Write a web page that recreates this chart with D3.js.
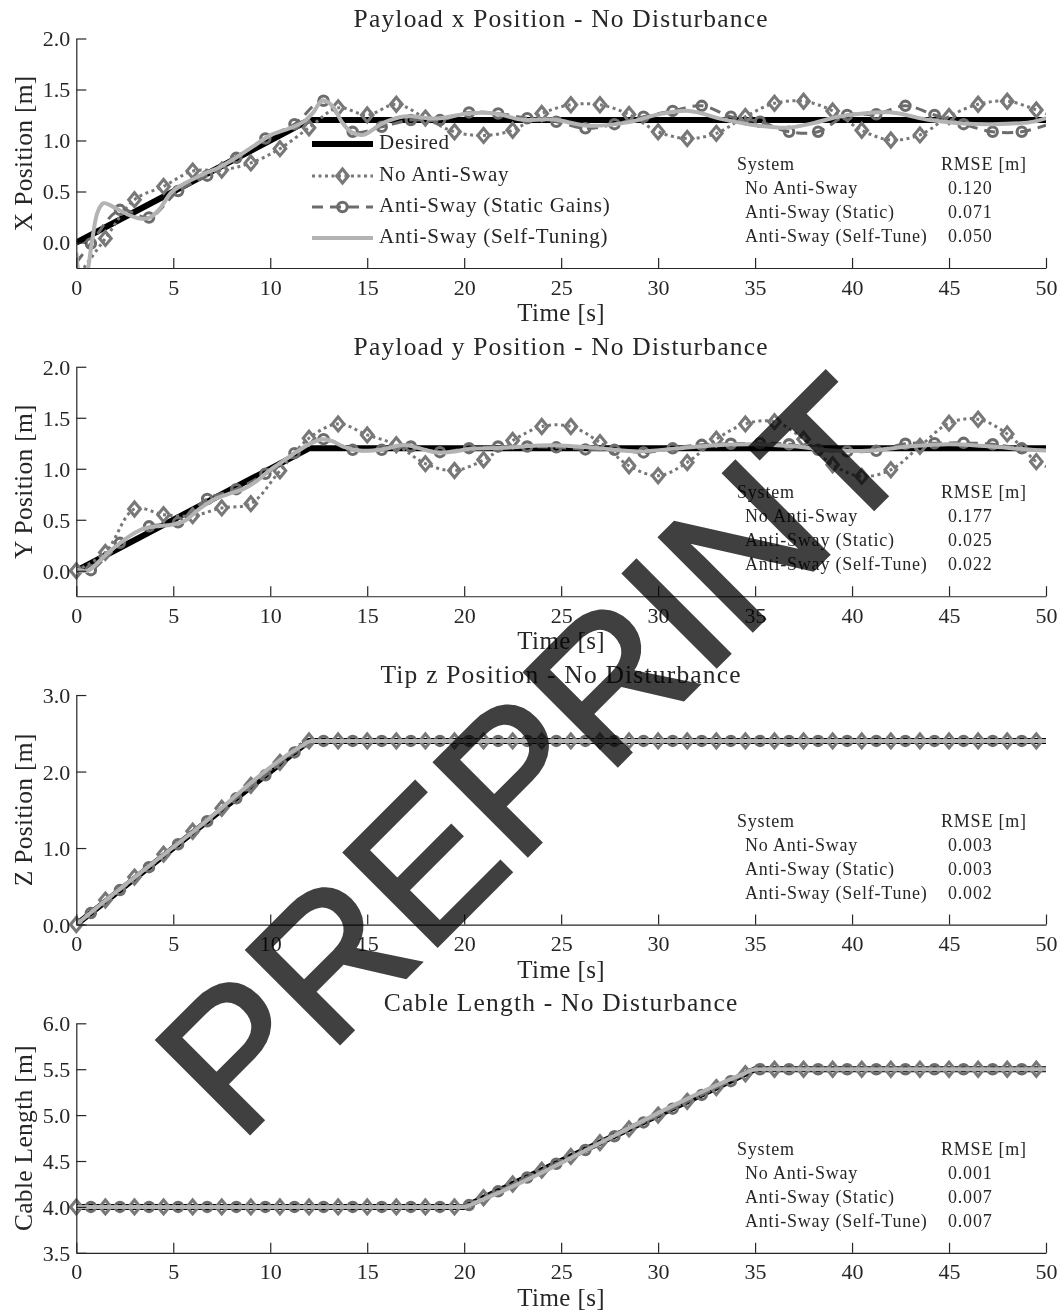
<!DOCTYPE html>
<html>
<head>
<meta charset="utf-8">
<script src="https://cdn.jsdelivr.net/npm/d3@7"></script>
<style>
  body { margin: 0; background: #fff; }
  svg text { font-family: "Liberation Serif", "Times New Roman", serif; fill: #262626; }
</style>
</head>
<body>
<svg id="chart" width="1064" height="1314"></svg>
<script>
// ---- sample instants (s) ----
const tDiamond = [0,1.5,3,4.5,6,7.5,9,10.5,12,13.5,15,16.5,18,19.5,21,22.5,24,25.5,27,28.5,30,31.5,33,34.5,36,37.5,39,40.5,42,43.5,45,46.5,48,49.5,50];
const tCircle  = [0,0.75,2.25,3.75,5.25,6.75,8.25,9.75,11.25,12.75,14.25,15.75,17.25,18.75,20.25,21.75,23.25,24.75,26.25,27.75,29.25,30.75,32.25,33.75,35.25,36.75,38.25,39.75,41.25,42.75,44.25,45.75,47.25,48.75,50];
const xTicks = [0,5,10,15,20,25,30,35,40,45,50];

// ---- payload x ----
const xDesiredT = [0,12,50];
const xDesired  = [0,1.2,1.2];
const xNoSway = [-0.35,0.04,0.42,0.55,0.70,0.71,0.78,0.92,1.125,1.32,1.25,1.355,1.22,1.085,1.05,1.10,1.265,1.35,1.35,1.255,1.085,1.02,1.07,1.235,1.365,1.385,1.29,1.10,1.005,1.055,1.235,1.355,1.385,1.30,1.26];
const xStatic = [-0.2,-0.01,0.32,0.245,0.505,0.655,0.83,1.02,1.16,1.39,1.085,1.135,1.2,1.2,1.275,1.265,1.218,1.184,1.12,1.16,1.233,1.29,1.34,1.233,1.184,1.086,1.086,1.25,1.257,1.34,1.25,1.16,1.086,1.086,1.15];
const tSelfX = [0,0.25,0.5,0.8,1.1,1.4,1.9,2.6,3.3,3.8,4.3,4.9,5.6,6.5,7.4,8.3,9.1,10,11,11.7,12.2,12.7,13.2,13.7,14.2,14.8,15.8,16.9,18.6,20.3,21.7,22.9,24.6,26.4,28.5,30,31.6,33.3,35,36.7,38,39.3,41.9,44,45.5,47.2,49.2,50];
const xSelf  = [-0.1,-0.38,-0.33,0.0,0.3,0.385,0.35,0.28,0.235,0.245,0.33,0.49,0.58,0.665,0.74,0.84,0.94,1.05,1.12,1.18,1.27,1.395,1.34,1.18,1.08,1.055,1.17,1.235,1.215,1.268,1.262,1.205,1.205,1.145,1.18,1.255,1.29,1.21,1.15,1.125,1.17,1.233,1.276,1.2,1.17,1.16,1.18,1.22];
const xTicksY = [0,0.5,1,1.5,2];
const xRmse = ["0.120","0.071","0.050"];

// ---- payload y ----
const yDesiredT = [0,12,50];
const yDesired  = [0,1.2,1.2];
const yNoSway = [0.0,0.18,0.606,0.55,0.54,0.616,0.658,0.98,1.30,1.44,1.332,1.235,1.05,0.983,1.088,1.277,1.414,1.414,1.257,1.03,0.932,1.062,1.29,1.44,1.462,1.29,1.039,0.925,0.99,1.22,1.447,1.486,1.342,1.07,1.02];
const yStatic = [0.0,0.006,0.274,0.436,0.475,0.704,0.80,0.951,1.153,1.29,1.186,1.186,1.218,1.163,1.202,1.218,1.218,1.21,1.19,1.186,1.16,1.2,1.235,1.245,1.25,1.24,1.186,1.17,1.176,1.245,1.25,1.254,1.24,1.2,1.18];
const tSelfY = [0,0.6,1.05,1.6,2.25,3,3.6,4.3,4.9,5.6,6.3,7.06,7.8,8.6,9.3,10,10.7,11.4,12.1,12.7,13.2,13.76,14.6,15.3,16,16.9,17.7,18.6,19.5,20.3,22,24.5,27,29,31,33,35,37,39,41,43,45,47,49,50];
const ySelf  = [0.01,0.0,0.07,0.17,0.27,0.37,0.42,0.44,0.45,0.49,0.6,0.697,0.75,0.80,0.88,0.99,1.08,1.17,1.25,1.29,1.27,1.218,1.18,1.18,1.2,1.232,1.2,1.16,1.17,1.195,1.205,1.23,1.2,1.17,1.2,1.23,1.24,1.22,1.18,1.18,1.22,1.24,1.22,1.19,1.18];
const yTicksY = [0,0.5,1,1.5,2];
const yRmse = ["0.177","0.025","0.022"];

// ---- tip z ----
const zDesiredT = [0,12,50];
const zDesired  = [0,2.4,2.4];
const zNoSway = [0.0,0.32,0.62,0.92,1.22,1.52,1.82,2.12,2.40,2.40,2.40,2.40,2.40,2.40,2.40,2.40,2.40,2.40,2.40,2.40,2.40,2.40,2.40,2.40,2.40,2.40,2.40,2.40,2.40,2.40,2.40,2.40,2.40,2.40,2.40];
const zStatic = [0.0,0.15,0.45,0.75,1.05,1.35,1.65,1.95,2.25,2.40,2.40,2.40,2.40,2.40,2.40,2.40,2.40,2.40,2.40,2.40,2.40,2.40,2.40,2.40,2.40,2.40,2.40,2.40,2.40,2.40,2.40,2.40,2.40,2.40,2.40];
const tSelfZ = [0,1,6,11.6,12.1,13,50];
const zSelf  = [0.0,0.21,1.21,2.33,2.4,2.4,2.4];
const zTicksY = [0,1,2,3];
const zRmse = ["0.003","0.003","0.002"];

// ---- cable length ----
const cDesiredT = [0,20,35,50];
const cDesired  = [4.0,4.0,5.5,5.5];
const cNoSway = [4,4,4,4,4,4,4,4,4,4,4,4,4,4,4.1,4.25,4.4,4.55,4.7,4.85,5.0,5.15,5.3,5.45,5.5,5.5,5.5,5.5,5.5,5.5,5.5,5.5,5.5,5.5,5.5];
const cStatic = [4,4,4,4,4,4,4,4,4,4,4,4,4,4,4.02,4.17,4.32,4.47,4.62,4.77,4.92,5.07,5.22,5.37,5.5,5.5,5.5,5.5,5.5,5.5,5.5,5.5,5.5,5.5,5.5];
const tSelfC = [0,20,20.6,34.4,35,50];
const cSelf  = [4.0,4.0,4.05,5.45,5.5,5.5];
const cTicksY = [3.5,4,4.5,5,5.5,6];
const cRmse = ["0.001","0.007","0.007"];

const seriesNames = ["Desired","No Anti-Sway","Anti-Sway (Static Gains)","Anti-Sway (Self-Tuning)"];
const tableNames = ["No Anti-Sway","Anti-Sway (Static)","Anti-Sway (Self-Tune)"];

const zip = (t, v) => t.map((d, i) => [d, v[i]]);

const panels = [
  { title: "Payload x Position - No Disturbance", ylabel: "X Position [m]", domain: [-0.25, 2], ticks: xTicksY,
    desired: zip(xDesiredT, xDesired), noSway: zip(tDiamond, xNoSway), stat: zip(tCircle, xStatic), self: zip(tSelfX, xSelf),
    rmse: xRmse, legend: true, smooth: true },
  { title: "Payload y Position - No Disturbance", ylabel: "Y Position [m]", domain: [-0.25, 2], ticks: yTicksY,
    desired: zip(yDesiredT, yDesired), noSway: zip(tDiamond, yNoSway), stat: zip(tCircle, yStatic), self: zip(tSelfY, ySelf),
    rmse: yRmse, legend: false, smooth: true },
  { title: "Tip z Position - No Disturbance", ylabel: "Z Position [m]", domain: [0, 3], ticks: zTicksY,
    desired: zip(zDesiredT, zDesired), noSway: zip(tDiamond, zNoSway), stat: zip(tCircle, zStatic), self: zip(tSelfZ, zSelf),
    rmse: zRmse, legend: false, smooth: false },
  { title: "Cable Length - No Disturbance", ylabel: "Cable Length [m]", domain: [3.5, 6], ticks: cTicksY,
    desired: zip(cDesiredT, cDesired), noSway: zip(tDiamond, cNoSway), stat: zip(tCircle, cStatic), self: zip(tSelfC, cSelf),
    rmse: cRmse, legend: false, smooth: false }
];

const svg = d3.select("#chart");
const L = 76.3, R = 1046, H = 229.5, T0 = 38.5, STEP = 328.27;
const axisColor = "#262626";
const cNo = "#787878", cSt = "#6c6c6c", cSelfColor = "#b3b3b3";
const diamond = (rx, ry) => `M0,${-ry}L${rx},0L0,${ry}L${-rx},0Z`;
const DIA = diamond(5.8, 7), CIR_R = 4.7, MK_W = 3.1;

const x = d3.scaleLinear().domain([0, 50]).range([L, R]);

panels.forEach((p, i) => {
  const top = T0 + STEP * i, bottom = top + H;
  const y = d3.scaleLinear().domain(p.domain).range([bottom, top]);
  const g = svg.append("g");

  const clipId = "clip" + i;
  svg.append("clipPath").attr("id", clipId).append("rect")
    .attr("x", L).attr("y", top).attr("width", R - L).attr("height", H);

  const curve = p.smooth ? d3.curveCatmullRom.alpha(0.5) : d3.curveMonotoneX;
  const line = d3.line().x(d => x(d[0])).y(d => y(d[1]));
  const plot = g.append("g").attr("clip-path", `url(#${clipId})`);

  // desired trajectory
  plot.append("path").attr("d", line.curve(d3.curveLinear)(p.desired))
    .attr("fill", "none").attr("stroke", "#000").attr("stroke-width", 6);

  // no anti-sway (dotted)
  plot.append("path").attr("d", line.curve(curve)(p.noSway))
    .attr("fill", "none").attr("stroke", cNo).attr("stroke-width", 3)
    .attr("stroke-dasharray", "3,3.5");
  // static gains (dashed)
  plot.append("path").attr("d", line.curve(curve)(p.stat))
    .attr("fill", "none").attr("stroke", cSt).attr("stroke-width", 3)
    .attr("stroke-dasharray", "11,7");

  const inDomain = d => d[1] >= p.domain[0] && d[1] <= p.domain[1];
  const isDiamond = d => Math.abs(d[0] / 1.5 - Math.round(d[0] / 1.5)) < 1e-6;
  const isCircle = d => Math.abs((d[0] - 0.75) / 1.5 - Math.round((d[0] - 0.75) / 1.5)) < 1e-6;

  const mk = g.append("g");
  mk.selectAll(".dia").data(p.noSway.filter(d => isDiamond(d) && inDomain(d))).join("path")
    .attr("transform", d => `translate(${x(d[0])},${y(d[1])})`)
    .attr("d", DIA).attr("fill", "none").attr("stroke", cNo).attr("stroke-width", MK_W);
  mk.selectAll(".cir").data(p.stat.filter(d => isCircle(d) && inDomain(d))).join("circle")
    .attr("cx", d => x(d[0])).attr("cy", d => y(d[1])).attr("r", CIR_R)
    .attr("fill", "none").attr("stroke", cSt).attr("stroke-width", MK_W);

  // self-tuning
  g.append("g").attr("clip-path", `url(#${clipId})`).append("path")
    .attr("d", line.curve(curve)(p.self))
    .attr("fill", "none").attr("stroke", cSelfColor).attr("stroke-width", 4);

  // axes with inward ticks, no box
  const ax = g.append("g").attr("transform", `translate(0,${bottom})`)
    .call(d3.axisBottom(x).tickValues(xTicks).tickSize(-10).tickSizeOuter(0).tickPadding(11).tickFormat(d3.format("d")));
  const ay = g.append("g").attr("transform", `translate(${L},0)`)
    .call(d3.axisLeft(y).tickValues(p.ticks).tickSize(-10).tickSizeOuter(0).tickPadding(6).tickFormat(d3.format(".1f")));
  [ax, ay].forEach(a => {
    a.select(".domain").attr("stroke", axisColor).attr("stroke-width", 1.2);
    a.selectAll(".tick line").attr("stroke", axisColor).attr("stroke-width", 1.2);
    a.selectAll(".tick text").style("font-size", "22px").style("fill", axisColor);
  });
  ay.selectAll(".tick text").attr("dy", "0.34em");

  // title and axis labels
  g.append("text").attr("x", (L + R) / 2).attr("y", top - 12).attr("text-anchor", "middle")
    .style("font-size", "25.5px").style("letter-spacing", "1.2px").text(p.title);
  g.append("text").attr("x", (L + R) / 2).attr("y", bottom + 53).attr("text-anchor", "middle")
    .style("font-size", "25px").style("letter-spacing", "0.4px").text("Time [s]");
  g.append("text").attr("transform", `translate(32,${(top + bottom) / 2}) rotate(-90)`).attr("text-anchor", "middle")
    .style("font-size", "25.5px").style("letter-spacing", "0.3px").text(p.ylabel);

  // RMSE table
  const tb = g.append("g").style("font-size", "18px").style("letter-spacing", "0.8px");
  const by = top + 131.5;
  tb.append("text").attr("x", 737).attr("y", by).text("System");
  tb.append("text").attr("x", 941).attr("y", by).text("RMSE [m]");
  tableNames.forEach((n, k) => {
    tb.append("text").attr("x", 745).attr("y", by + 24 * (k + 1)).text(n);
    tb.append("text").attr("x", 948).attr("y", by + 24 * (k + 1)).text(p.rmse[k]);
  });

  // legend
  if (p.legend) {
    const lg = g.append("g");
    const rows = [144, 176, 207, 238];
    const x0 = 312, x1 = 373, xm = (x0 + x1) / 2;
    lg.append("line").attr("x1", x0).attr("x2", x1).attr("y1", rows[0]).attr("y2", rows[0]).attr("stroke", "#000").attr("stroke-width", 6);
    lg.append("line").attr("x1", x0).attr("x2", x1).attr("y1", rows[1]).attr("y2", rows[1]).attr("stroke", cNo).attr("stroke-width", 3).attr("stroke-dasharray", "3,3.5");
    lg.append("path").attr("transform", `translate(${xm},${rows[1]})`).attr("d", DIA).attr("fill", "none").attr("stroke", cNo).attr("stroke-width", MK_W);
    lg.append("line").attr("x1", x0).attr("x2", x1).attr("y1", rows[2]).attr("y2", rows[2]).attr("stroke", cSt).attr("stroke-width", 3).attr("stroke-dasharray", "11,7");
    lg.append("circle").attr("cx", xm).attr("cy", rows[2]).attr("r", CIR_R).attr("fill", "none").attr("stroke", cSt).attr("stroke-width", MK_W);
    lg.append("line").attr("x1", x0).attr("x2", x1).attr("y1", rows[3]).attr("y2", rows[3]).attr("stroke", cSelfColor).attr("stroke-width", 4);
    seriesNames.forEach((n, k) => {
      lg.append("text").attr("x", 379).attr("y", rows[k] + 5).style("font-size", "21px").style("letter-spacing", "0.8px").text(n);
    });
  }
});

// watermark
svg.append("text")
  .attr("transform", "translate(239,1144) rotate(-45)")
  .style("font-family", "'Liberation Sans', Arial, sans-serif")
  .style("font-size", "191px")
  .style("fill", "#404040")
  .style("stroke", "#404040")
  .style("stroke-width", "3.5px")
  .style("stroke-linejoin", "miter")
  .style("mix-blend-mode", "multiply")
  .text("PREPRINT");
</script>
</body>
</html>
